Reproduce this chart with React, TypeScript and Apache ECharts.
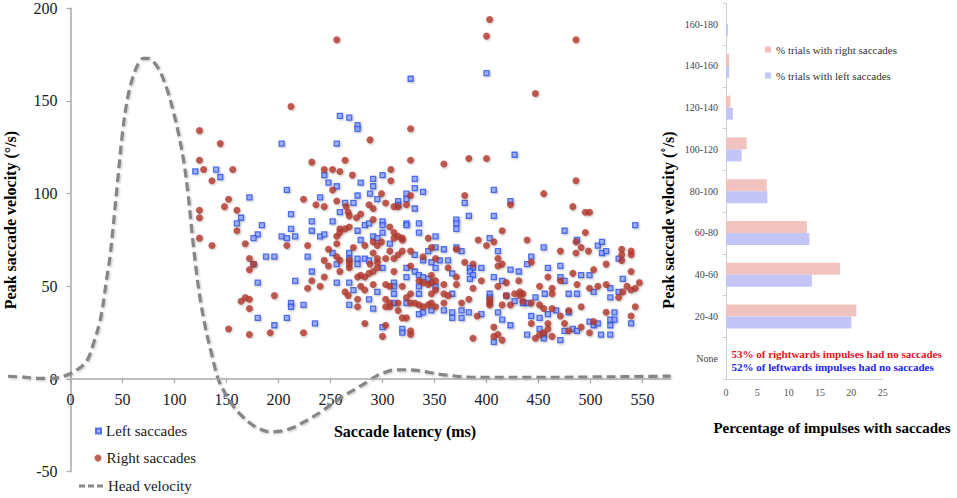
import React, { useEffect, useRef } from "react";
import * as echarts from "echarts";

const SERIF = "Liberation Serif";

// ---------- Scatter / line panel data ----------
const LATENCY_TICKS = [0, 50, 100, 150, 200, 250, 300, 350, 400, 450, 500, 550];
const X_MIN = -60;
const X_MAX = 577;

// Head velocity curve [latency ms, velocity °/s]
const HEAD_VELOCITY: number[][] = [
  [-60, 1.5], [-45, 1], [-30, 0.3], [-15, 0.5], [0, 3], [10, 6.5], [16, 10], [22, 19],
  [29, 33], [35, 55], [38, 66], [45, 105], [50, 133], [55, 152], [60, 163], [65, 170],
  [70, 173], [75, 173], [80, 171], [86, 166], [93, 156], [99, 144], [104, 132], [109, 117],
  [113, 100], [117, 78], [121, 58], [125, 42], [130, 27], [135, 15], [142, 0], [150, -9],
  [157, -15], [165, -20], [173, -24], [182, -27], [192, -28.5], [203, -28], [215, -26],
  [228, -22], [240, -18], [260, -10], [275, -5], [285, -1.6], [295, 2], [302, 3.5],
  [308, 4.7], [320, 5], [333, 4.7], [345, 3.5], [356, 2.5], [368, 1.7], [381, 1.1],
  [400, 0.9], [450, 0.9], [500, 1.1], [550, 1.4], [577, 1.6],
];

// Left saccades (blue squares) [latency, peak velocity]
const LEFT_SACCADES: number[][] = [
  [203, 127], [120, 112], [140, 113], [144, 109], [172, 98], [208, 102], [164, 87], [160, 84],
  [184, 83], [212, 89], [212, 81], [180, 78], [176, 76], [203, 77], [208, 76], [216, 77],
  [188, 66], [196, 66], [176, 62], [180, 52], [216, 53], [212, 41], [212, 39], [180, 33],
  [196, 29], [208, 33], [224, 40], [235, 30], [228, 66], [232, 58],
  [327, 162], [259, 142], [268, 141], [276, 137], [276, 135], [256, 127], [244, 110],
  [291, 108], [300, 110], [331, 108], [400, 165], [427, 121],
  [248, 106], [256, 104], [279, 106], [291, 104], [331, 103], [339, 101], [240, 98], [264, 95],
  [272, 95], [259, 90], [276, 99], [288, 100], [295, 97], [315, 96], [315, 94], [323, 100],
  [323, 97], [331, 92], [232, 85], [232, 80], [240, 77], [244, 78], [252, 85], [276, 80],
  [283, 83], [287, 84], [300, 85], [300, 83], [300, 79], [323, 84], [323, 83], [335, 84],
  [335, 79], [351, 77], [291, 77], [295, 76], [307, 73], [252, 68], [256, 62], [268, 68],
  [268, 65], [276, 65], [276, 62], [279, 75], [283, 65], [287, 64], [331, 67], [344, 69],
  [347, 63], [339, 64], [351, 71], [256, 52], [268, 52], [272, 48], [287, 43], [295, 47],
  [300, 60], [311, 52], [311, 50], [323, 55], [323, 60], [331, 58], [335, 56], [339, 55],
  [344, 54], [351, 60], [351, 50], [335, 50], [335, 46], [311, 46], [268, 40], [291, 38],
  [311, 41], [323, 41], [335, 35], [339, 36], [300, 28], [319, 27], [319, 25],
  [407, 102], [379, 95], [423, 96], [383, 88], [407, 88], [371, 86], [371, 84], [371, 81],
  [543, 83], [475, 80], [403, 76], [371, 71], [376, 69], [359, 70], [411, 69], [455, 71],
  [487, 75], [507, 72], [511, 74], [511, 68], [515, 69], [527, 65], [355, 64], [363, 64],
  [367, 57], [384, 60], [387, 60], [384, 58], [387, 56], [384, 54], [395, 60], [423, 59],
  [431, 58], [439, 62], [443, 66], [459, 60], [471, 61], [491, 56], [499, 56], [471, 55],
  [475, 53], [531, 54], [407, 55], [415, 53], [519, 49], [519, 44], [527, 47], [479, 46],
  [487, 46], [503, 47], [456, 46], [447, 44], [427, 42], [435, 41], [440, 41], [419, 45],
  [403, 46], [403, 44], [367, 46], [359, 37], [367, 36], [376, 37], [367, 33], [376, 33],
  [383, 36], [347, 37], [395, 35], [411, 36], [415, 32], [423, 29], [443, 34], [451, 33],
  [459, 35], [467, 37], [479, 36], [499, 31], [503, 29], [507, 30], [519, 32], [523, 32],
  [519, 29], [523, 36], [539, 30], [439, 24], [451, 27], [455, 24], [455, 22], [471, 21],
  [475, 26], [483, 27], [487, 26], [510, 24], [519, 24], [407, 20],
];

// Right saccades (red circles) [latency, peak velocity]
const RIGHT_SACCADES: number[][] = [
  [212, 147], [124, 134], [144, 127], [124, 118], [128, 113], [156, 113], [136, 107],
  [152, 97], [148, 93], [124, 91], [160, 91], [124, 87], [160, 80], [124, 76], [168, 73],
  [136, 72], [208, 72], [172, 65], [176, 62], [172, 59], [196, 45], [168, 44], [164, 42],
  [172, 43], [172, 38], [152, 27], [172, 24], [192, 25], [224, 25],
  [256, 183], [327, 135], [288, 129], [327, 118], [232, 117], [244, 113], [252, 113],
  [259, 112], [264, 118], [271, 110], [308, 113], [308, 107],
  [403, 194], [400, 185], [486, 183], [447, 154], [359, 116], [383, 119], [400, 119], [486, 107],
  [252, 102], [224, 97], [236, 94], [244, 93], [256, 96], [265, 93], [267, 90], [268, 88],
  [299, 100], [287, 94], [291, 92], [303, 95], [311, 93], [315, 93], [327, 99], [323, 94],
  [228, 72], [259, 81], [264, 81], [268, 82], [256, 77], [259, 79], [256, 73], [275, 87],
  [279, 89], [291, 86], [307, 82], [311, 79], [319, 76], [315, 77], [344, 76], [299, 74],
  [311, 76], [319, 75], [291, 74], [295, 72],
  [248, 70], [244, 64], [248, 61], [256, 66], [259, 64], [268, 64], [268, 62], [268, 60],
  [272, 71], [283, 72], [291, 68], [295, 65], [295, 63], [288, 62], [307, 69], [303, 65],
  [311, 65], [315, 67], [319, 69], [327, 69], [339, 66], [347, 71], [351, 65],
  [232, 53], [228, 49], [240, 50], [244, 55], [259, 58], [264, 47], [267, 45], [276, 55],
  [279, 56], [283, 55], [279, 50], [283, 48], [287, 57], [291, 58], [295, 60], [291, 51],
  [303, 51], [307, 50], [311, 58], [319, 50], [327, 61], [335, 53], [339, 52], [344, 51],
  [347, 52], [351, 53], [347, 56], [327, 46],
  [276, 43], [276, 39], [303, 43], [307, 41], [303, 39], [307, 39], [315, 41], [323, 44],
  [327, 41], [331, 41], [335, 40], [339, 39], [344, 40], [347, 41], [351, 39], [315, 37],
  [283, 30], [300, 23], [303, 29], [319, 33], [323, 33], [327, 26], [327, 24],
  [379, 99], [455, 100], [423, 94], [483, 93], [495, 90], [499, 90], [415, 80], [495, 79],
  [392, 75], [400, 72], [407, 74], [439, 75], [486, 74], [491, 71], [486, 68], [471, 69],
  [498, 69], [530, 70], [530, 67], [530, 64], [539, 69], [539, 67], [371, 70], [411, 65],
  [443, 63], [379, 63], [387, 62], [411, 61], [363, 60], [415, 62], [503, 59], [515, 62],
  [539, 58], [371, 55], [395, 53], [419, 52], [431, 53], [411, 50], [459, 55], [471, 53],
  [483, 57], [487, 51], [499, 49], [507, 50], [515, 51], [535, 50], [543, 49], [547, 52],
  [539, 48], [531, 47], [527, 44],
  [351, 48], [347, 46], [359, 51], [359, 46], [363, 45], [371, 51], [387, 49], [451, 50],
  [463, 49], [463, 46],
  [359, 41], [376, 41], [383, 43], [403, 43], [403, 41], [403, 40], [419, 45], [423, 40],
  [415, 40], [427, 46], [432, 47], [435, 46], [432, 45], [435, 42], [443, 41], [451, 40],
  [455, 38], [463, 38], [471, 34], [479, 37], [491, 39], [515, 36], [539, 34], [543, 39],
  [391, 34], [443, 30], [459, 30], [459, 27], [475, 30], [491, 28], [503, 31], [407, 28],
  [407, 23], [411, 24], [415, 21], [387, 22], [447, 22], [451, 24], [455, 25], [463, 23],
  [479, 26], [499, 25],
];

// ---------- Bar panel data ----------
const VELOCITY_BINS = ["None", "20-40", "40-60", "60-80", "80-100", "100-120", "120-140", "140-160", "160-180"];
const RIGHT_PCT = [0, 20.8, 18.2, 12.9, 6.5, 3.3, 0.7, 0.5, 0];
const LEFT_PCT = [0, 20.0, 13.7, 13.3, 6.6, 2.5, 1.1, 0.5, 0.3];
const PCT_TICKS = [0, 5, 10, 15, 20, 25];
const NO_SACCADE_RIGHT = 53;
const NO_SACCADE_LEFT = 52;

const BLUE = "#2f55e6";
const RED = "#b3372d";
const PINK_BAR = "#f2c3be";
const BLUE_BAR = "#c2c5f6";
const AXIS_GRAY = "#a8a8a8";
const CURVE_GRAY = "#868686";

// scatter grid geometry (pixels)
const G_LEFT = 8.1;
const G_TOP = 8.3;
const G_W = 662.5;
const G_H = 463.4;
const Y_MIN = -50;
const Y_MAX = 200;

export default function App() {
  const ref = useRef<HTMLDivElement>(null);

  useEffect(() => {
    if (!ref.current) return;
    const chart = echarts.init(ref.current, null, { renderer: "svg" });

    // shift axes so they cross at the data origin (0, 0)
    const yAxisShift = ((0 - X_MIN) / (X_MAX - X_MIN)) * G_W;
    const xAxisShift = ((0 - Y_MIN) / (Y_MAX - Y_MIN)) * G_H;

    const legendText = { fontSize: 15, color: "#1a1a1a", fontFamily: SERIF };

    const option: any = {
      animation: false,
      backgroundColor: "#ffffff",
      textStyle: { fontFamily: SERIF },
      grid: [
        { left: G_LEFT, top: G_TOP, width: G_W, height: G_H, outerBoundsMode: "none" },
        { left: 726, top: 3.3, width: 156.7, height: 375.7, outerBoundsMode: "none" },
      ],
      xAxis: [
        {
          type: "value",
          gridIndex: 0,
          position: "bottom",
          offset: -xAxisShift,
          min: X_MIN,
          max: X_MAX,
          axisLine: { show: false, onZero: false },
          axisTick: { show: true, length: 4, customValues: LATENCY_TICKS, lineStyle: { color: AXIS_GRAY, width: 1.2 } },
          axisLabel: { customValues: LATENCY_TICKS, fontSize: 16, color: "#1a1a1a", margin: 12, fontFamily: SERIF },
          splitLine: { show: false },
        },
        {
          type: "value",
          gridIndex: 1,
          min: 0,
          max: 25,
          interval: 5,
          axisLine: { show: true, lineStyle: { color: "#cfcfcf", width: 1 } },
          axisTick: { show: false },
          axisLabel: { fontSize: 10, color: "#555", margin: 8, fontFamily: SERIF, customValues: PCT_TICKS },
          splitLine: { show: false },
        },
      ],
      yAxis: [
        {
          type: "value",
          gridIndex: 0,
          position: "left",
          offset: -yAxisShift,
          min: Y_MIN,
          max: Y_MAX,
          interval: 50,
          axisLine: { show: true, onZero: false, lineStyle: { color: AXIS_GRAY, width: 1.5 } },
          axisTick: { show: true, length: 4, lineStyle: { color: AXIS_GRAY, width: 1.2 } },
          axisLabel: { fontSize: 16, color: "#1a1a1a", margin: 13, fontFamily: SERIF },
          splitLine: { show: false },
        },
        {
          type: "category",
          gridIndex: 1,
          data: VELOCITY_BINS,
          axisLine: { show: true, lineStyle: { color: "#cfcfcf", width: 1 } },
          axisTick: { show: true, length: 3, lineStyle: { color: "#cfcfcf" } },
          axisLabel: { fontSize: 10, color: "#444", margin: 8, fontFamily: SERIF },
        },
      ],
      legend: [
        {
          data: ["Left saccades"],
          orient: "vertical",
          left: 95,
          top: 423.5,
          padding: 0,
          icon: "rect",
          itemWidth: 5,
          itemHeight: 5,
          textStyle: legendText,
        },
        {
          data: ["Right saccades"],
          orient: "vertical",
          left: 94.5,
          top: 450.5,
          padding: 0,
          icon: "circle",
          itemWidth: 7,
          itemHeight: 7,
          textStyle: legendText,
        },
        {
          data: [
            {
              name: "Head velocity",
              icon: "path://M0,0h6v3h-6z M9,0h6v3h-6z M18,0h6v3h-6z",
              itemStyle: { color: CURVE_GRAY },
            },
          ],
          orient: "vertical",
          left: 79,
          top: 478.5,
          padding: 0,
          itemWidth: 24,
          itemHeight: 3,
          textStyle: legendText,
        },
        {
          data: ["% trials with right saccades", "% trials with left saccades"],
          orient: "vertical",
          left: 765,
          top: 44,
          padding: 0,
          icon: "rect",
          itemWidth: 6,
          itemHeight: 6,
          itemGap: 15,
          textStyle: { fontSize: 11, color: "#333", fontFamily: SERIF },
        },
      ],
      series: [
        {
          name: "Head velocity",
          type: "line",
          xAxisIndex: 0,
          yAxisIndex: 0,
          data: HEAD_VELOCITY,
          smooth: 0.35,
          symbol: "none",
          z: 1,
          lineStyle: {
            color: CURVE_GRAY,
            width: 3.2,
            type: [9, 5],
            shadowColor: "rgba(0,0,0,0.25)",
            shadowBlur: 2,
            shadowOffsetX: 1,
            shadowOffsetY: 1,
          },
          itemStyle: { color: CURVE_GRAY },
          markLine: {
            silent: true,
            symbol: ["none", "none"],
            label: { show: false },
            lineStyle: { color: AXIS_GRAY, width: 1.5, type: "solid" },
            data: [[{ coord: [0, 0] }, { coord: [X_MAX, 0] }]],
          },
        },
        {
          name: "Left saccades",
          type: "scatter",
          xAxisIndex: 0,
          yAxisIndex: 0,
          data: LEFT_SACCADES,
          symbol: "rect",
          symbolSize: 5,
          z: 3,
          itemStyle: {
            color: "#8ea2ff",
            borderColor: BLUE,
            borderWidth: 1.3,
            shadowColor: "rgba(0,0,0,0.3)",
            shadowBlur: 2,
            shadowOffsetX: 1,
            shadowOffsetY: 1,
          },
        },
        {
          name: "Right saccades",
          type: "scatter",
          xAxisIndex: 0,
          yAxisIndex: 0,
          data: RIGHT_SACCADES,
          symbol: "circle",
          symbolSize: 7,
          z: 4,
          itemStyle: {
            color: RED,
            shadowColor: "rgba(0,0,0,0.3)",
            shadowBlur: 2,
            shadowOffsetX: 1,
            shadowOffsetY: 1,
          },
        },
        {
          name: "% trials with right saccades",
          type: "bar",
          xAxisIndex: 1,
          yAxisIndex: 1,
          data: RIGHT_PCT,
          barWidth: 12,
          barGap: "0%",
          itemStyle: { color: PINK_BAR },
        },
        {
          name: "% trials with left saccades",
          type: "bar",
          xAxisIndex: 1,
          yAxisIndex: 1,
          data: LEFT_PCT,
          barWidth: 12,
          barGap: "0%",
          itemStyle: { color: BLUE_BAR },
        },
      ],
      graphic: [
        {
          type: "text",
          x: 10,
          y: 220,
          rotation: Math.PI / 2,
          style: {
            text: "Peak saccade velocity (°/s)",
            align: "center",
            verticalAlign: "middle",
            font: `bold 16px ${SERIF}`,
            fill: "#000",
          },
        },
        {
          type: "text",
          x: 405,
          y: 431,
          style: {
            text: "Saccade latency (ms)",
            align: "center",
            verticalAlign: "middle",
            font: `bold 16px ${SERIF}`,
            fill: "#000",
          },
        },
        {
          type: "text",
          x: 668,
          y: 220,
          rotation: Math.PI / 2,
          style: {
            text: "Peak saccade velocity (˚/s)",
            align: "center",
            verticalAlign: "middle",
            font: `bold 16px ${SERIF}`,
            fill: "#000",
          },
        },
        {
          type: "text",
          x: 832,
          y: 428,
          style: {
            text: "Percentage of impulses with saccades",
            align: "center",
            verticalAlign: "middle",
            font: `bold 15px ${SERIF}`,
            fill: "#000",
          },
        },
        {
          type: "text",
          x: 731.5,
          y: 354,
          style: {
            text: `${NO_SACCADE_RIGHT}% of rightwards impulses had no saccades`,
            align: "left",
            verticalAlign: "middle",
            font: `bold 11px ${SERIF}`,
            fill: "#e3141c",
          },
        },
        {
          type: "text",
          x: 731.5,
          y: 367,
          style: {
            text: `${NO_SACCADE_LEFT}% of leftwards impulses had no saccades`,
            align: "left",
            verticalAlign: "middle",
            font: `bold 11px ${SERIF}`,
            fill: "#2323ee",
          },
        },
      ],
    };

    chart.setOption(option);
    return () => chart.dispose();
  }, []);

  return (
    <div
      ref={ref}
      style={{ position: "fixed", left: 0, top: 0, width: 957, height: 498, background: "#ffffff" }}
    />
  );
}
